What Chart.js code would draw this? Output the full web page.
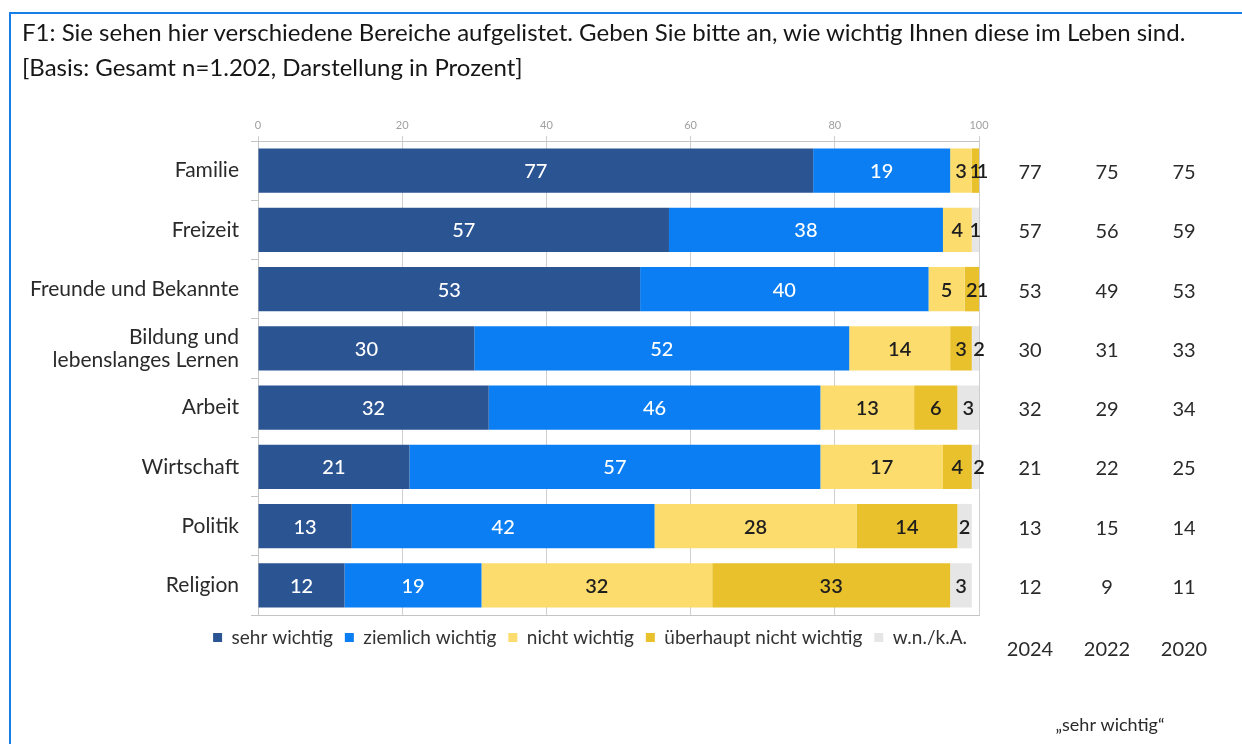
<!DOCTYPE html>
<html lang="de">
<head>
<meta charset="utf-8">
<title>Wichtigkeit von Lebensbereichen</title>
<script src="https://cdn.jsdelivr.net/npm/chart.js@4.4.1/dist/chart.umd.min.js"></script>
<style>
  html, body { margin: 0; padding: 0; background: #fff; }
  body { width: 1242px; height: 744px; position: relative; overflow: hidden; font-family: Lato, "Open Sans", sans-serif; }
  .frame-top { position: absolute; left: 9px; top: 12px; width: 1233px; height: 2px; background: #1a7ee8; }
  .frame-left { position: absolute; left: 9px; top: 12px; width: 2px; height: 732px; background: #1a7ee8; }
  .heading { position: absolute; left: 22px; top: 14px; font-size: 24px; line-height: 35px; color: #161616; z-index: 2; white-space: nowrap; }
  #chart { position: absolute; left: 0; top: 0; }
</style>
</head>
<body>
<div class="frame-top"></div>
<div class="frame-left"></div>
<div class="heading">
  F1: Sie sehen hier verschiedene Bereiche aufgelistet. Geben Sie bitte an, wie wichtig Ihnen diese im Leben sind.<br>
  [Basis: Gesamt n=1.202, Darstellung in Prozent]
</div>
<canvas id="chart" width="1242" height="744"></canvas>
<script>
const categories = [
  "Familie",
  "Freizeit",
  "Freunde und Bekannte",
  ["Bildung und", "lebenslanges Lernen"],
  "Arbeit",
  "Wirtschaft",
  "Politik",
  "Religion",
];

const sehrWichtig = [77, 57, 53, 30, 32, 21, 13, 12];
const ziemlichWichtig = [19, 38, 40, 52, 46, 57, 42, 19];
const nichtWichtig = [3, 4, 5, 14, 13, 17, 28, 32];
const ueberhauptNicht = [1, 0, 2, 3, 6, 4, 14, 33];
const keineAngabe = [1, 1, 1, 2, 3, 2, 2, 3];

// "sehr wichtig" in earlier waves
const years = ["2024", "2022", "2020"];
const trend2024 = [77, 57, 53, 30, 32, 21, 13, 12];
const trend2022 = [75, 56, 49, 31, 29, 22, 15, 9];
const trend2020 = [75, 59, 53, 33, 34, 25, 14, 11];

const xTicks = [0, 20, 40, 60, 80, 100];

Chart.defaults.font.family = "Lato";
Chart.defaults.color = "#333";

// numbers inside the bar segments
const segmentLabels = {
  id: "segmentLabels",
  afterDatasetsDraw(chart) {
    const ctx = chart.ctx;
    ctx.save();
    ctx.textAlign = "center";
    ctx.textBaseline = "middle";
    chart.data.datasets.forEach((ds, di) => {
      const meta = chart.getDatasetMeta(di);
      meta.data.forEach((bar, i) => {
        const v = ds.data[i];
        if (!v) return;
        const light = di < 2;
        ctx.fillStyle = light ? "#ffffff" : "#1e1e1e";
        ctx.font = (light ? "500" : "600") + " 20px Lato";
        ctx.fillText(String(v), (bar.x + bar.base) / 2, bar.y + 1);
      });
    });
    ctx.restore();
  },
};

// trend columns on the right
const trendTable = {
  id: "trendTable",
  afterDraw(chart) {
    const ctx = chart.ctx;
    const y = chart.scales.y;
    const cols = [1030, 1107, 1184];
    const series = [trend2024, trend2022, trend2020];
    ctx.save();
    ctx.fillStyle = "#2a2a2a";
    ctx.font = "20px Lato";
    ctx.textAlign = "center";
    ctx.textBaseline = "middle";
    series.forEach((vals, c) => {
      vals.forEach((v, i) => {
        ctx.fillText(String(v), cols[c], y.getPixelForValue(i) + 2);
      });
      ctx.fillText(years[c], cols[c], chart.chartArea.bottom + 35);
    });
    ctx.font = "18px Lato";
    ctx.fillText("\u201Esehr wichtig\u201C", 1110, chart.chartArea.bottom + 110);
    ctx.restore();
  },
};

function series(label, data, color) {
  return {
    label,
    data,
    backgroundColor: color,
    borderWidth: 0,
    barPercentage: 0.75,
    categoryPercentage: 1,
  };
}

new Chart(document.getElementById("chart"), {
  type: "bar",
  data: {
    labels: categories,
    datasets: [
      series("sehr wichtig", sehrWichtig, "#2b5493"),
      series("ziemlich wichtig", ziemlichWichtig, "#0a7ef2"),
      series("nicht wichtig", nichtWichtig, "#fcdc6c"),
      series("überhaupt nicht wichtig", ueberhauptNicht, "#e9c12c"),
      series("w.n./k.A.", keineAngabe, "#e6e6e6"),
    ],
  },
  options: {
    indexAxis: "y",
    responsive: false,
    devicePixelRatio: 1,
    animation: false,
    layout: { padding: { left: 0, right: 263, top: 0, bottom: 87 } },
    plugins: {
      legend: {
        position: "bottom",
        align: "end",
        labels: {
          boxWidth: 9,
          boxHeight: 9,
          padding: 12,
          color: "#333",
          font: { size: 19 },
        },
      },
      tooltip: { enabled: false },
    },
    scales: {
      x: {
        position: "top",
        stacked: true,
        min: 0,
        max: 100,
        afterBuildTicks: (scale) => {
          scale.ticks = xTicks.map((v) => ({ value: v }));
        },
        afterFit: (scale) => {
          scale.height = 141;
        },
        ticks: { color: "#a0a0a0", font: { size: 11 }, padding: 4 },
        grid: { color: "#cfcfcf", tickLength: 5 },
        border: { color: "#c4c4c4" },
      },
      x2: {
        position: "bottom",
        min: 0,
        max: 100,
        ticks: { display: false },
        grid: { display: false },
        border: { color: "#c4c4c4" },
        afterFit: (scale) => {
          scale.height = 1;
        },
      },
      y: {
        stacked: true,
        afterFit: (scale) => {
          scale.width = 258;
        },
        ticks: { color: "#2a2a2a", font: { size: 21, lineHeight: 1.1 }, padding: 12 },
        grid: { drawOnChartArea: false, tickLength: 7, color: "#c4c4c4" },
        border: { color: "#c4c4c4" },
      },
    },
  },
  plugins: [segmentLabels, trendTable],
});
</script>
</body>
</html>
